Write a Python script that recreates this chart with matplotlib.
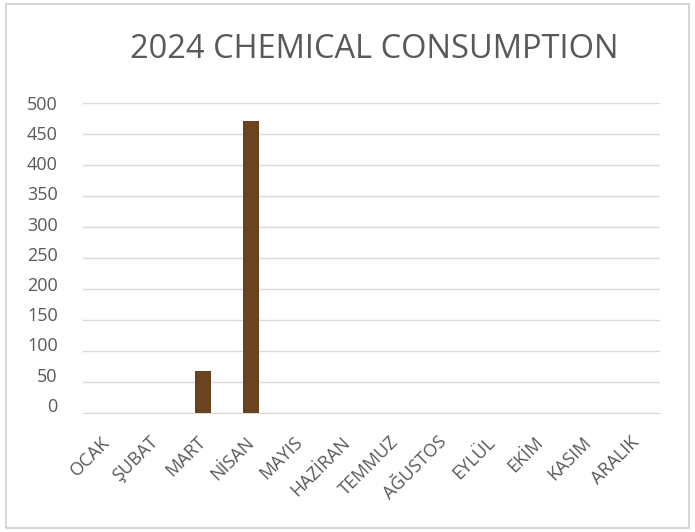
import matplotlib.pyplot as plt
import matplotlib.transforms as mtransforms
from matplotlib.patches import Rectangle

plt.rcParams['font.family'] = ['Open Sans', 'DejaVu Sans']

# veriler
months = ["OCAK", "ŞUBAT", "MART", "NİSAN", "MAYIS", "HAZİRAN",
          "TEMMUZ", "AĞUSTOS", "EYLÜL", "EKİM", "KASIM", "ARALIK"]
consumption = [0, 0, 67, 470, 0, 0, 0, 0, 0, 0, 0, 0]
yticks = [0, 50, 100, 150, 200, 250, 300, 350, 400, 450, 500]

text_color = "#595959"
bar_color = "#6B431E"
grid_color = "#D9D9D9"

fig = plt.figure(figsize=(6.95, 5.32), dpi=100)
ax = fig.add_axes([0.119, 0.224, 0.831, 0.583])

# dış çerçeve
fig.patches.append(Rectangle((0.008, 0.008), 0.983, 0.984, transform=fig.transFigure,
                             fill=False, edgecolor="#D0D0D0", linewidth=1.2))

x = list(range(len(months)))
ax.bar(x, consumption, width=0.33, color=bar_color, zorder=3)

ax.set_xlim(-0.5, len(months) - 0.5)
ax.set_ylim(0, 500)
ax.set_yticks(yticks)
ax.set_yticklabels([str(v) for v in yticks], color=text_color, fontsize=13)
ax.set_xticks(x)
ax.set_xticklabels(months, rotation=45, ha="right", rotation_mode="anchor",
                   color=text_color, fontsize=13)
ax.tick_params(axis="x", length=0, pad=14.5)
ax.tick_params(axis="y", length=0, pad=18)

# etiketleri biraz sola kaydır
shift = mtransforms.ScaledTranslation(-6 / 100, 0, fig.dpi_scale_trans)
for lab in ax.get_xticklabels():
    lab.set_transform(lab.get_transform() + shift)

# y etiketleri orijinalde alta doğru hafif yukarı kaymış
for lab, v in zip(ax.get_yticklabels(), yticks):
    up = mtransforms.ScaledTranslation(0, (500 - v) / 500 * 8 / 100, fig.dpi_scale_trans)
    lab.set_transform(lab.get_transform() + up)

ax.grid(axis="y", color=grid_color, linewidth=1, zorder=0)
for s in ["top", "right", "left"]:
    ax.spines[s].set_visible(False)
ax.spines["bottom"].set_color(grid_color)

fig.text(0.539, 0.907, "2024 CHEMICAL CONSUMPTION", ha="center", va="center",
         fontsize=23.5, color=text_color)

plt.savefig("out.png", dpi=100)
